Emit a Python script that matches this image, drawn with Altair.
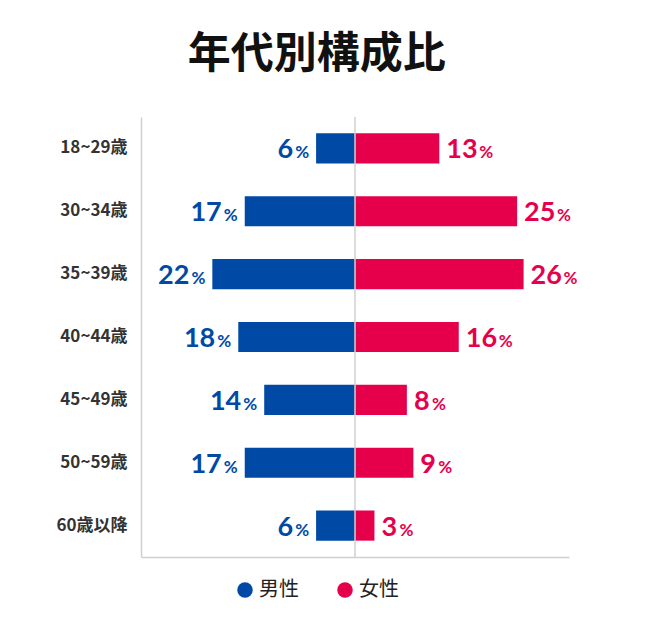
import altair as alt
import pandas as pd

ages = ["18~29歳", "30~34歳", "35~39歳", "40~44歳", "45~49歳", "50~59歳", "60歳以降"]
male = [6, 17, 22, 18, 14, 17, 6]
female = [13, 25, 26, 16, 8, 9, 3]
sexes = ["男性", "女性"]
colors = ["#004AA6", "#E6004C"]

rows = []
for a, m, f in zip(ages, male, female):
    rows.append({"age": a, "sex": "男性", "value": m, "x": -m})
    rows.append({"age": a, "sex": "女性", "value": f, "x": f})
df = pd.DataFrame(rows)

JP = "Noto Sans CJK JP"
NUM = "Lato"

y = alt.Y("age:N", sort=ages, title=None,
          scale=alt.Scale(paddingInner=0.52, paddingOuter=0.26),
          axis=alt.Axis(labelFont=JP, labelFontSize=17, labelFontWeight="bold",
                        labelColor="#333333", labelPadding=14, ticks=False,
                        domainColor="#d0d0d0", domainWidth=1.5))
xs = alt.Scale(domain=[-33, 33])
xax = alt.Axis(labels=False, ticks=False, grid=False, title=None,
               domainColor="#d0d0d0", domainWidth=1.5)

base = alt.Chart(df)

bars = base.mark_bar().encode(
    x=alt.X("x:Q", scale=xs, axis=xax),
    y=y,
    color=alt.Color("sex:N", scale=alt.Scale(domain=sexes, range=colors),
                    legend=alt.Legend(title=None, orient="none", legendX=94, legendY=463,
                                      direction="horizontal", symbolType="circle",
                                      symbolSize=240, symbolOpacity=1, symbolStrokeWidth=0,
                                      labelFont=JP, labelFontSize=20, labelColor="#222222",
                                      columnPadding=36, labelOffset=4)),
)

center = alt.Chart(pd.DataFrame({"z": [0]})).mark_rule(color="#d0d0d0", strokeWidth=1.5).encode(
    x=alt.X("z:Q", scale=xs)
)

m = base.transform_filter("datum.sex == '男性'")
f = base.transform_filter("datum.sex == '女性'")

num_kw = dict(font=NUM, fontSize=27, fontWeight="bold", baseline="alphabetic", dy=10)
pct_kw = dict(font=NUM, fontSize=17, fontWeight="bold", baseline="alphabetic", dy=10)

m_num = m.mark_text(align="right", dx=-23, color=colors[0], **num_kw).encode(
    x=alt.X("x:Q", scale=xs), y=alt.Y("age:N", sort=ages), text="value:Q")
m_pct = m.mark_text(align="right", dx=-7, color=colors[0], **pct_kw).encode(
    x=alt.X("x:Q", scale=xs), y=alt.Y("age:N", sort=ages), text=alt.value("%"))
f_num = f.mark_text(align="left", dx=7, color=colors[1], **num_kw).encode(
    x=alt.X("x:Q", scale=xs), y=alt.Y("age:N", sort=ages), text="value:Q")
f_pct1 = f.transform_filter("datum.value < 10").mark_text(
    align="left", dx=25, color=colors[1], **pct_kw).encode(
    x=alt.X("x:Q", scale=xs), y=alt.Y("age:N", sort=ages), text=alt.value("%"))
f_pct2 = f.transform_filter("datum.value >= 10").mark_text(
    align="left", dx=40, color=colors[1], **pct_kw).encode(
    x=alt.X("x:Q", scale=xs), y=alt.Y("age:N", sort=ages), text=alt.value("%"))

chart = alt.layer(bars, center, m_num, m_pct, f_num, f_pct1, f_pct2).properties(
    width=428, height=440,
    padding={"left": 47, "top": 26, "right": 10, "bottom": 10},
    title=alt.TitleParams("年代別構成比", font=JP, fontSize=43, fontWeight="bold",
                          color="#111111", anchor="middle", frame="bounds", offset=39),
).configure_view(stroke=None)

chart.save("out.html", embed_options={"renderer": "svg", "actions": False})
